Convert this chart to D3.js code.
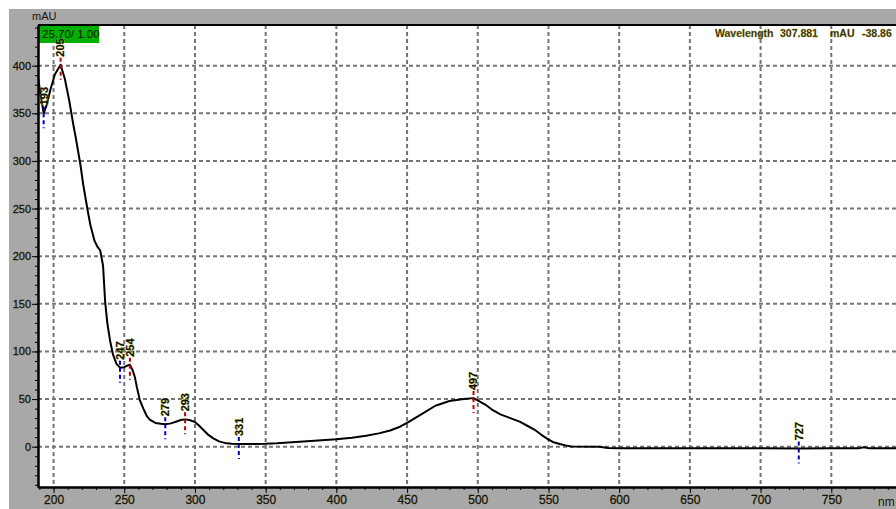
<!DOCTYPE html>
<html>
<head>
<meta charset="utf-8">
<script src="https://cdn.jsdelivr.net/npm/d3@7"></script>
<style>
  html, body { margin: 0; padding: 0; background: #ffffff; }
  svg { display: block; }
  text { font-family: "Liberation Sans", Arial, sans-serif; }
</style>
</head>
<body>
<svg id="chart" width="896" height="509"></svg>
<script>
// UV-Vis absorbance spectrum (wavelength in nm, absorbance in mAU)
const wavelengths = [189,191,193,195,198,201,205,208,211,214,216,219,221,224,226,229,231,233,235,236.5,238,240,242,244.5,247,250,252,254,256,257.5,259,261,263.5,266,268,272,276,279,283,287,290,293,296,300,303,306,309,313,317,321,326,331,340,350,358,366,374,387,400,411,421,430,438,445,450,460,470,480,490,497,505,510,516,524,530,535,540,545,549,553,558,562,566,586,592,600,650,700,727,750,770,773,776,800];
const absorbance = [388,368,350,358,376,391,401,386,364,338,322,296,275,249,233,216,210,206,190,152,130,111,97,87,83,83.5,85,86,80,73,62,49,40,32,28.5,25,24,23.5,24.5,26.5,28,28.7,28,26,22,17.5,13,8.8,5.6,4,3.2,2.8,2.8,3,3.5,4.3,5.2,6.4,7.8,9.5,11.5,14,17,21,25,34,43,48,50,51,44.5,39,34,29.5,26,22,18,12.5,8.5,5,2.8,1.4,0.2,0,-1.4,-1.6,-1.6,-1.7,-1.8,-1.6,-1.5,-0.5,-1.5,-1.6];

// Detected maxima / minima
const markerWavelengths = [193, 205, 247, 254, 279, 293, 331, 497, 727];
const markerKinds = ["min", "max", "min", "max", "min", "max", "min", "max", "min"];

const xTicks = [200,250,300,350,400,450,500,550,600,650,700,750];
const yTicks = [0,50,100,150,200,250,300,350,400];

const headerLabel = "25.70/ 1.00";
const cursorText = ["Wavelength", "307.881", "mAU", "-38.86"];

const W = 896, H = 509;
const plot = { left: 38, top: 25, right: 902, bottom: 487 };
const textColor = "#1a1400";

const svg = d3.select("#chart");

// frame background
svg.append("rect").attr("x", 9).attr("y", 9).attr("width", W - 9).attr("height", H - 9).attr("fill", "#a8a8a8");
svg.append("rect").attr("x", plot.left).attr("y", plot.top)
  .attr("width", plot.right - plot.left).attr("height", plot.bottom - plot.top).attr("fill", "#ffffff");

const x = d3.scaleLinear().domain([189, 800]).range([plot.left, plot.right]);
const y = d3.scaleLinear().domain([-42.3, 442.7]).range([plot.bottom, plot.top]);

svg.append("clipPath").attr("id", "plotClip").append("rect")
  .attr("x", plot.left).attr("y", plot.top)
  .attr("width", plot.right - plot.left).attr("height", plot.bottom - plot.top);

// dashed grid
const grid = svg.append("g").attr("clip-path", "url(#plotClip)")
  .attr("stroke", "#747474").attr("stroke-width", 2).attr("stroke-dasharray", "4,3");
grid.selectAll("line.v").data(xTicks.concat([800])).join("line").attr("class", "v")
  .attr("x1", d => x(d)).attr("x2", d => x(d)).attr("y1", plot.top).attr("y2", plot.bottom);
grid.selectAll("line.h").data(yTicks).join("line").attr("class", "h")
  .attr("x1", plot.left).attr("x2", plot.right).attr("y1", d => y(d)).attr("y2", d => y(d));

// header box
svg.append("rect").attr("x", plot.left + 1).attr("y", plot.top).attr("width", 60).attr("height", 18).attr("fill", "#00b000");
svg.append("text").attr("x", plot.left + 4).attr("y", plot.top + 13)
  .attr("font-size", 11.5).attr("fill", "#101000").text(headerLabel);

// spectrum
const data = wavelengths.map((w, i) => ({ w, a: absorbance[i] }));
const line = d3.line().x(d => x(d.w)).y(d => y(d.a));
svg.append("path").datum(data).attr("clip-path", "url(#plotClip)")
  .attr("d", line).attr("fill", "none").attr("stroke", "#000").attr("stroke-width", 2)
  .attr("stroke-linejoin", "round");

// value of the spectrum at a wavelength
const bis = d3.bisector(d => d.w).left;
function valueAt(w) {
  const i = Math.max(1, Math.min(data.length - 1, bis(data, w)));
  const p = data[i - 1], q = data[i];
  return p.a + (q.a - p.a) * (w - p.w) / (q.w - p.w);
}

// extrema markers and labels
const marks = svg.append("g").attr("clip-path", "url(#plotClip)");
markerWavelengths.forEach((w, i) => {
  const cx = x(w), cy = y(valueAt(w));
  marks.append("line")
    .attr("x1", cx).attr("x2", cx).attr("y1", cy - 7).attr("y2", cy + 15)
    .attr("stroke", markerKinds[i] === "max" ? "#c00000" : "#0000c0")
    .attr("stroke-width", 2).attr("stroke-dasharray", "4,3");
  marks.append("text")
    .attr("transform", `translate(${cx},${cy - 8}) rotate(-90)`)
    .attr("dy", "0.35em").attr("text-anchor", "start")
    .attr("font-size", 11).attr("font-weight", "bold")
    .attr("fill", "#101000").attr("stroke", "#b5b84a").attr("stroke-width", 0.6)
    .attr("paint-order", "stroke")
    .text(w);
});

// axes
const axisColor = "#000";
const yMajor = d3.axisLeft(y).tickValues(yTicks).tickSize(6).tickSizeOuter(0).tickPadding(1);
const yMinor = d3.axisLeft(y).tickValues(d3.range(-40, 441, 10)).tickSize(3).tickSizeOuter(0).tickFormat("");
const xMajor = d3.axisBottom(x).tickValues(xTicks).tickSize(6).tickSizeOuter(0).tickPadding(2);
const xMinor = d3.axisBottom(x).tickValues(d3.range(190, 801, 10)).tickSize(3).tickSizeOuter(0).tickFormat("");

function styleAxis(g, size) {
  g.select(".domain").attr("stroke", axisColor).attr("stroke-width", 2);
  g.selectAll(".tick line").attr("stroke", axisColor).attr("stroke-width", 1);
  g.selectAll(".tick text").attr("fill", textColor).attr("font-size", size)
    .attr("font-family", "'Liberation Sans', Arial, sans-serif")
    .attr("stroke", textColor).attr("stroke-width", 0.3);
}
svg.append("g").attr("transform", `translate(${plot.left},0)`).call(yMinor).call(g => styleAxis(g, 11));
svg.append("g").attr("transform", `translate(${plot.left},0)`).call(yMajor).call(g => styleAxis(g, 11));
svg.append("g").attr("transform", `translate(0,${plot.bottom})`).call(xMinor).call(g => styleAxis(g, 12));
svg.append("g").attr("transform", `translate(0,${plot.bottom})`).call(xMajor).call(g => styleAxis(g, 12));

// top border
svg.append("line").attr("x1", plot.left).attr("x2", W).attr("y1", plot.top).attr("y2", plot.top)
  .attr("stroke", "#000").attr("stroke-width", 2);

// axis units
svg.append("text").attr("x", 32).attr("y", 20).attr("font-size", 11).attr("fill", textColor).text("mAU");
svg.append("text").attr("x", 878).attr("y", 506).attr("font-size", 12).attr("fill", textColor).text("nm");

// cursor readout
const readX = [715, 780, 830, 862];
cursorText.forEach((t, i) => {
  svg.append("text").attr("x", readX[i]).attr("y", 37).attr("font-size", 10.5)
    .attr("font-weight", "bold").attr("fill", "#262000")
    .attr("stroke", "#9a9420").attr("stroke-width", 0.3)
    .text(t);
});
</script>
</body>
</html>
